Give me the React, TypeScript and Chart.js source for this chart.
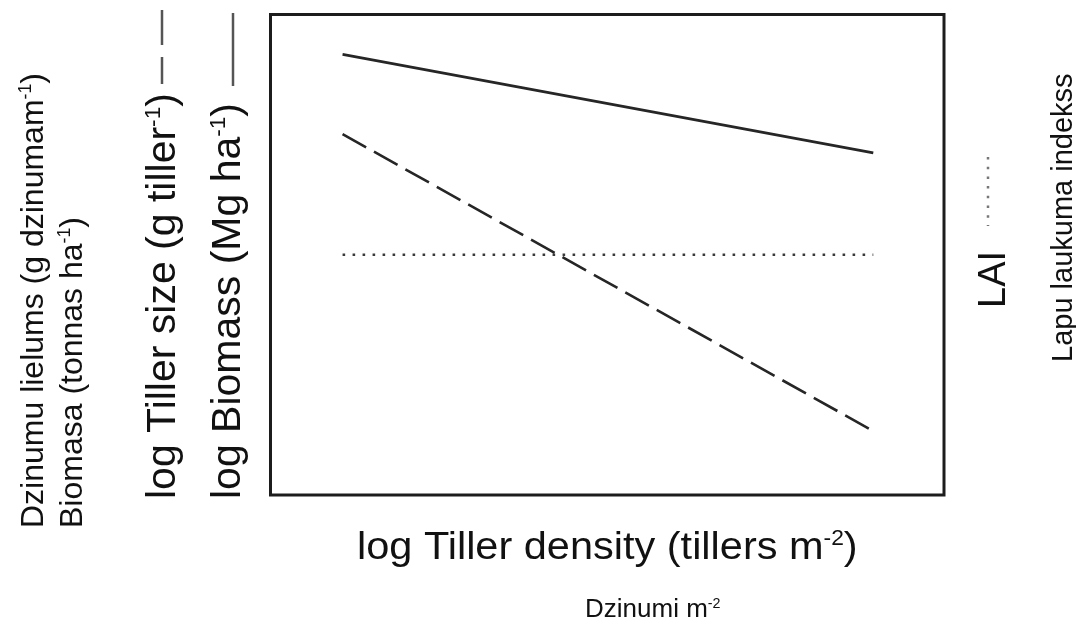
import React, { useEffect, useRef } from 'react';
import { Chart, registerables } from 'chart.js';

Chart.register(...registerables);

// Conceptual relationship (axes have no ticks): positions in % of axis range
const xPositions = [10.7, 89.5];
const biomass = [91.7, 71.2];
const tillerSize = [75.1, 13.3];
const lai = [50, 50];

type Run = [string, boolean];
const xTitle: Run[] = [['log Tiller density (tillers m', false], ['-2', true], [')', false]];
const xSubTitle: Run[] = [['Dzinumi m', false], ['-2', true]];
const yTitleLv1: Run[] = [['Dzinumu lielums (g dzinumam', false], ['-1', true], [')', false]];
const yTitleLv2: Run[] = [['Biomasa (tonnas ha', false], ['-1', true], [')', false]];
const yTitleTiller: Run[] = [['log Tiller size (g tiller', false], ['-1', true], [')', false]];
const yTitleBiomass: Run[] = [['log Biomass (Mg ha', false], ['-1', true], [')', false]];
const rightTitle: Run[] = [['LAI', false]];
const rightSubTitle: Run[] = [['Lapu laukuma indekss', false]];

const FONT = '"Liberation Sans", Arial, Helvetica, sans-serif';
const INK = '#111111';
const LINE = '#262626';

function drawRuns(
  ctx: CanvasRenderingContext2D,
  runs: Run[],
  x: number,
  y: number,
  size: number,
  rotated: boolean,
  stretch = 1
) {
  ctx.save();
  ctx.translate(x, y);
  if (rotated) ctx.rotate(-Math.PI / 2);
  ctx.scale(stretch, 1);
  ctx.fillStyle = INK;
  ctx.textBaseline = 'alphabetic';
  ctx.textAlign = 'left';
  let cx = 0;
  for (const [text, sup] of runs) {
    const fs = sup ? size * 0.55 : size;
    ctx.font = `${fs}px ${FONT}`;
    ctx.fillText(text, cx, sup ? -size * 0.36 : 0);
    cx += ctx.measureText(text).width;
  }
  ctx.restore();
}

function drawSeg(
  ctx: CanvasRenderingContext2D,
  x1: number,
  y1: number,
  x2: number,
  y2: number,
  dash: number[],
  width: number,
  color: string
) {
  ctx.save();
  ctx.strokeStyle = color;
  ctx.lineWidth = width;
  ctx.lineCap = 'butt';
  ctx.setLineDash(dash);
  ctx.beginPath();
  ctx.moveTo(x1, y1);
  ctx.lineTo(x2, y2);
  ctx.stroke();
  ctx.restore();
}

const decorPlugin = {
  id: 'decor',
  afterDraw(chart: any) {
    const ctx: CanvasRenderingContext2D = chart.ctx;
    const a = chart.chartArea;
    // frame
    ctx.save();
    ctx.strokeStyle = '#1c1c1c';
    ctx.lineWidth = 3;
    ctx.strokeRect(a.left, a.top, a.right - a.left, a.bottom - a.top);
    ctx.restore();

    // bottom titles
    drawRuns(ctx, xTitle, 357, 559, 39, false, 1.064);
    drawRuns(ctx, xSubTitle, 585, 617, 26, false);

    // left titles
    drawRuns(ctx, yTitleLv1, 43, 528, 32, true);
    drawRuns(ctx, yTitleLv2, 82, 528, 32, true);
    drawRuns(ctx, yTitleTiller, 175, 499, 41, true);
    drawRuns(ctx, yTitleBiomass, 240, 499, 41, true);

    // legend keys next to the left titles
    drawSeg(ctx, 162, 10, 162, 84, [35, 12], 2.5, '#555');
    drawSeg(ctx, 233, 13, 233, 86, [], 2.5, '#555');

    // right titles
    drawRuns(ctx, rightTitle, 1005, 308, 38, true);
    drawSeg(ctx, 988, 157, 988, 226, [2.5, 7.2], 2.5, '#777');
    drawRuns(ctx, rightSubTitle, 1072, 362, 29, true);
  },
};

export default function App() {
  const ref = useRef<HTMLCanvasElement | null>(null);

  useEffect(() => {
    document.body.style.margin = '0';
    document.body.style.overflow = 'hidden';
    const canvas = ref.current;
    if (!canvas) return;
    const pts = (ys: number[]) => xPositions.map((x, i) => ({ x, y: ys[i] }));
    const chart = new Chart(canvas, {
      type: 'line',
      data: {
        datasets: [
          {
            label: 'log Biomass',
            data: pts(biomass),
            borderColor: LINE,
            borderWidth: 2.6,
            borderCapStyle: 'butt',
            pointRadius: 0,
            tension: 0,
          },
          {
            label: 'log Tiller size',
            data: pts(tillerSize),
            borderColor: LINE,
            borderWidth: 2.6,
            borderDash: [27, 9],
            borderCapStyle: 'butt',
            pointRadius: 0,
            tension: 0,
          },
          {
            label: 'LAI',
            data: pts(lai),
            borderColor: '#3a3a3a',
            borderWidth: 2.6,
            borderDash: [2.6, 7.4],
            borderCapStyle: 'butt',
            pointRadius: 0,
            tension: 0,
          },
        ],
      },
      options: {
        animation: false,
        responsive: false,
        devicePixelRatio: 1,
        layout: { padding: { left: 270.5, top: 14.5, right: 132, bottom: 132 } },
        scales: {
          x: { type: 'linear', min: 0, max: 100, display: false },
          y: { type: 'linear', min: 0, max: 100, display: false },
        },
        plugins: {
          legend: { display: false },
          tooltip: { enabled: false },
          title: { display: false },
        },
      },
      plugins: [decorPlugin],
    });
    return () => chart.destroy();
  }, []);

  return (
    <div style={{ width: 1076, height: 627, background: '#ffffff' }}>
      <canvas ref={ref} width={1076} height={627} style={{ display: 'block' }} />
    </div>
  );
}
